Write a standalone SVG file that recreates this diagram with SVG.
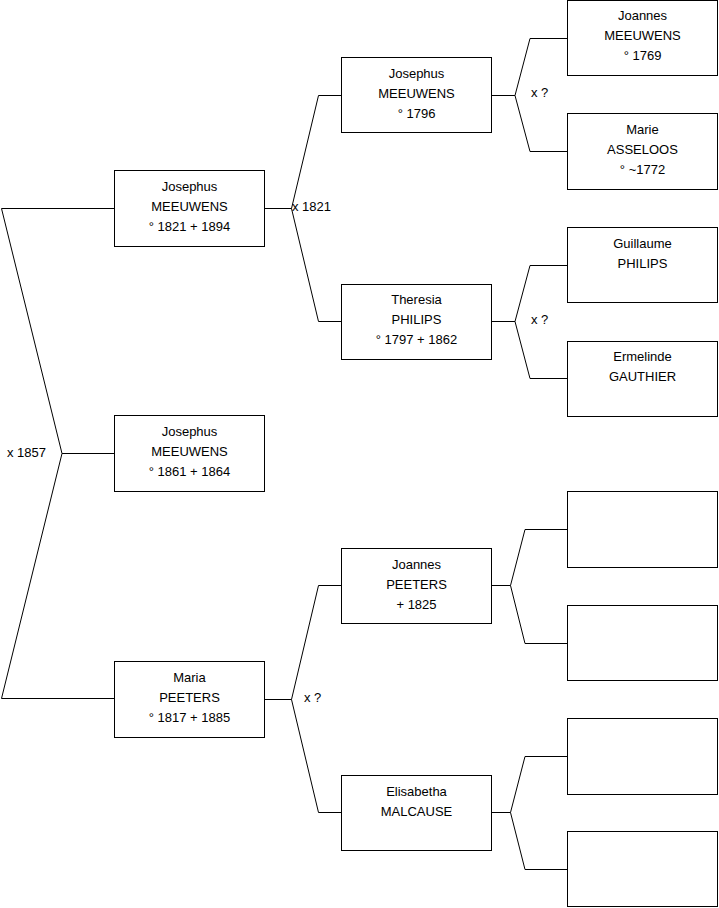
<svg xmlns="http://www.w3.org/2000/svg" width="719" height="908" viewBox="0 0 719 908">
<style>
.box{fill:#fff;stroke:#000;stroke-width:1}
.ln{fill:none;stroke:#000;stroke-width:1}
text{font-family:"Liberation Sans",Arial,sans-serif;font-size:13px;fill:#000}
.c{text-anchor:middle}
</style>
<rect width="719" height="908" fill="#fff"/>
<g id="connectors">
<polyline class="ln" points="114,208.5 1.5,208.5 62,453.5 1.5,698.5 114,698.5"/>
<line class="ln" x1="62" y1="453.5" x2="114" y2="453.5"/>
<polyline class="ln" points="265,208.5 291.5,208.5"/>
<polyline class="ln" points="341,95.5 318.5,95.5 291.5,208.5 318.5,321.5 341,321.5"/>
<polyline class="ln" points="265,699.5 291.5,699.5"/>
<polyline class="ln" points="341,585.5 318.5,585.5 291.5,699.5 318.5,812.5 341,812.5"/>
<polyline class="ln" points="492,95.5 515,95.5"/>
<polyline class="ln" points="567,38.5 530,38.5 515,95.5 530,151.5 567,151.5"/>
<polyline class="ln" points="492,321.5 515,321.5"/>
<polyline class="ln" points="567,265.5 530,265.5 515,321.5 530,378.5 567,378.5"/>
<polyline class="ln" points="492,585.5 510.5,585.5"/>
<polyline class="ln" points="567,529.5 525,529.5 510.5,585.5 525,643.5 567,643.5"/>
<polyline class="ln" points="492,812.5 510.5,812.5"/>
<polyline class="ln" points="567,756.5 525,756.5 510.5,812.5 525,869.5 567,869.5"/>
<text x="7" y="457">x 1857</text>
<text x="292" y="211">x 1821</text>
<text x="304" y="702">x ?</text>
<text x="531" y="97">x ?</text>
<text x="531" y="324">x ?</text>
</g>
<g id="n1">
<rect class="box" x="114.5" y="170.5" width="150" height="76"/>
<text class="c" x="189.5" y="191">Josephus</text>
<text class="c" x="189.5" y="211">MEEUWENS</text>
<text class="c" x="189.5" y="231">° 1821 + 1894</text>
</g>
<g id="n2">
<rect class="box" x="114.5" y="415.5" width="150" height="76"/>
<text class="c" x="189.5" y="436">Josephus</text>
<text class="c" x="189.5" y="456">MEEUWENS</text>
<text class="c" x="189.5" y="476">° 1861 + 1864</text>
</g>
<g id="n3">
<rect class="box" x="114.5" y="661.5" width="150" height="76"/>
<text class="c" x="189.5" y="682">Maria</text>
<text class="c" x="189.5" y="702">PEETERS</text>
<text class="c" x="189.5" y="722">° 1817 + 1885</text>
</g>
<g id="n4">
<rect class="box" x="341.5" y="57.5" width="150" height="75"/>
<text class="c" x="416.5" y="78">Josephus</text>
<text class="c" x="416.5" y="98">MEEUWENS</text>
<text class="c" x="416.5" y="118">° 1796</text>
</g>
<g id="n5">
<rect class="box" x="341.5" y="284.5" width="150" height="75"/>
<text class="c" x="416.5" y="304">Theresia</text>
<text class="c" x="416.5" y="324">PHILIPS</text>
<text class="c" x="416.5" y="344">° 1797 + 1862</text>
</g>
<g id="n6">
<rect class="box" x="341.5" y="548.5" width="150" height="75"/>
<text class="c" x="416.5" y="569">Joannes</text>
<text class="c" x="416.5" y="589">PEETERS</text>
<text class="c" x="416.5" y="609">+ 1825</text>
</g>
<g id="n7">
<rect class="box" x="341.5" y="775.5" width="150" height="75"/>
<text class="c" x="416.5" y="796">Elisabetha</text>
<text class="c" x="416.5" y="816">MALCAUSE</text>
</g>
<g id="n8">
<rect class="box" x="567.5" y="0.5" width="150" height="75"/>
<text class="c" x="642.5" y="20">Joannes</text>
<text class="c" x="642.5" y="40">MEEUWENS</text>
<text class="c" x="642.5" y="60">° 1769</text>
</g>
<g id="n9">
<rect class="box" x="567.5" y="113.5" width="150" height="76"/>
<text class="c" x="642.5" y="134">Marie</text>
<text class="c" x="642.5" y="154">ASSELOOS</text>
<text class="c" x="642.5" y="174">° ~1772</text>
</g>
<g id="n10">
<rect class="box" x="567.5" y="227.5" width="150" height="75"/>
<text class="c" x="642.5" y="248">Guillaume</text>
<text class="c" x="642.5" y="268">PHILIPS</text>
</g>
<g id="n11">
<rect class="box" x="567.5" y="341.5" width="150" height="75"/>
<text class="c" x="642.5" y="361">Ermelinde</text>
<text class="c" x="642.5" y="381">GAUTHIER</text>
</g>
<g id="n12"><rect class="box" x="567.5" y="491.5" width="150" height="76"/></g>
<g id="n13"><rect class="box" x="567.5" y="605.5" width="150" height="75"/></g>
<g id="n14"><rect class="box" x="567.5" y="718.5" width="150" height="76"/></g>
<g id="n15"><rect class="box" x="567.5" y="831.5" width="150" height="75"/></g>
</svg>
